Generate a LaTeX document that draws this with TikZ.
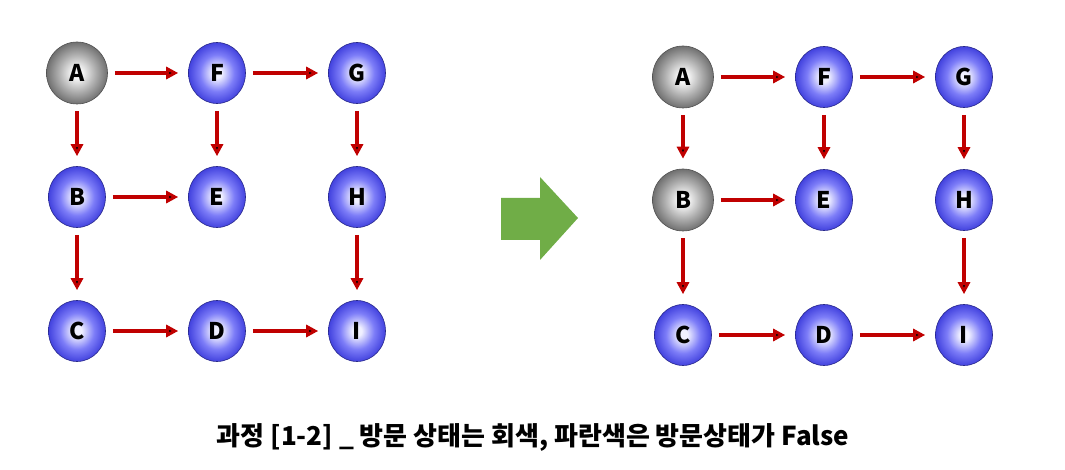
\documentclass[tikz,border=0pt]{standalone}
\usepackage{fontspec}
\newfontfamily\krfont{Noto Sans CJK KR}
\usetikzlibrary{positioning,arrows.meta,shapes.geometric}
\definecolor{edgered}{RGB}{192,0,0}
\definecolor{bigarrow}{RGB}{112,173,71}
\definecolor{ballcore}{RGB}{240,240,255}
\definecolor{bluemid}{RGB}{125,125,248}
\definecolor{blueedge}{RGB}{66,66,222}
\definecolor{blueline}{RGB}{40,40,140}
\definecolor{graycore}{RGB}{248,248,248}
\definecolor{graymid}{RGB}{175,175,175}
\definecolor{grayedge}{RGB}{112,112,112}
\definecolor{grayline}{RGB}{80,80,80}
\pgfdeclareradialshading{blueball}{\pgfpoint{0bp}{0bp}}{color(0bp)=(ballcore); color(4bp)=(ballcore); color(15bp)=(bluemid); color(25bp)=(blueedge); color(50bp)=(blueedge)}
\pgfdeclareradialshading{grayball}{\pgfpoint{0bp}{0bp}}{color(0bp)=(graycore); color(4bp)=(graycore); color(15bp)=(graymid); color(25bp)=(grayedge); color(50bp)=(grayedge)}
\tikzset{bnode/.style={ellipse,draw=blueline,line width=0.6pt,shading=blueball,minimum width=57pt,minimum height=61pt,inner sep=0pt,font=\krfont\bfseries\fontsize{23}{23}\selectfont}  }
\tikzset{gnode/.style={bnode,draw=grayline,shading=grayball,minimum width=61pt,minimum height=62pt}  }
\tikzset{link/.style={->,draw=edgered,line width=4pt,shorten <=7pt,shorten >=10pt}  }
\tikzset{>={Triangle[length=12pt,width=12pt]}}

\begin{document}
\begin{tikzpicture}[x=1pt,y=-1pt]
	\useasboundingbox (0,0) rectangle (1065,470);
		% before
		\node[gnode] (A1) at (77,73) {A};
		\node[bnode] (F1) at (217,73) {F};
		\node[bnode] (G1) at (357,73) {G};
		\node[bnode] (B1) at (77,197) {B};
		\node[bnode] (E1) at (217,197) {E};
		\node[bnode] (H1) at (357,197) {H};
		\node[bnode] (C1) at (77,331) {C};
		\node[bnode] (D1) at (217,331) {D};
		\node[bnode] (I1) at (357,331) {I};

			\draw[link]
				  (A1) edge (F1) edge (B1)
				  (F1) edge (G1) edge (E1)
				  (G1) edge (H1)
				  (B1) edge (E1) edge (C1)
				  (H1) edge (I1)
				  (C1) edge (D1)
				  (D1) edge (I1)
				;

		% step
		\fill[bigarrow] (501,198) -- (540,198) -- (540,177) -- (578,218) -- (540,260) -- (540,240) -- (501,240) -- cycle;

		% after
		\node[gnode] (A2) at (683,77) {A};
		\node[bnode] (F2) at (824,77) {F};
		\node[bnode] (G2) at (964,77) {G};
		\node[gnode] (B2) at (683,200) {B};
		\node[bnode] (E2) at (824,200) {E};
		\node[bnode] (H2) at (964,200) {H};
		\node[bnode] (C2) at (683,335) {C};
		\node[bnode] (D2) at (824,335) {D};
		\node[bnode] (I2) at (964,335) {I};

			\draw[link]
				  (A2) edge (F2) edge (B2)
				  (F2) edge (G2) edge (E2)
				  (G2) edge (H2)
				  (B2) edge (E2) edge (C2)
				  (H2) edge (I2)
				  (C2) edge (D2)
				  (D2) edge (I2)
				;

		\node[font=\krfont\bfseries\fontsize{26}{26}\selectfont] (caption) at (533,437) {과정 [1-2] \_ 방문 상태는 회색, 파란색은 방문상태가 False};
\end{tikzpicture}
\end{document}
